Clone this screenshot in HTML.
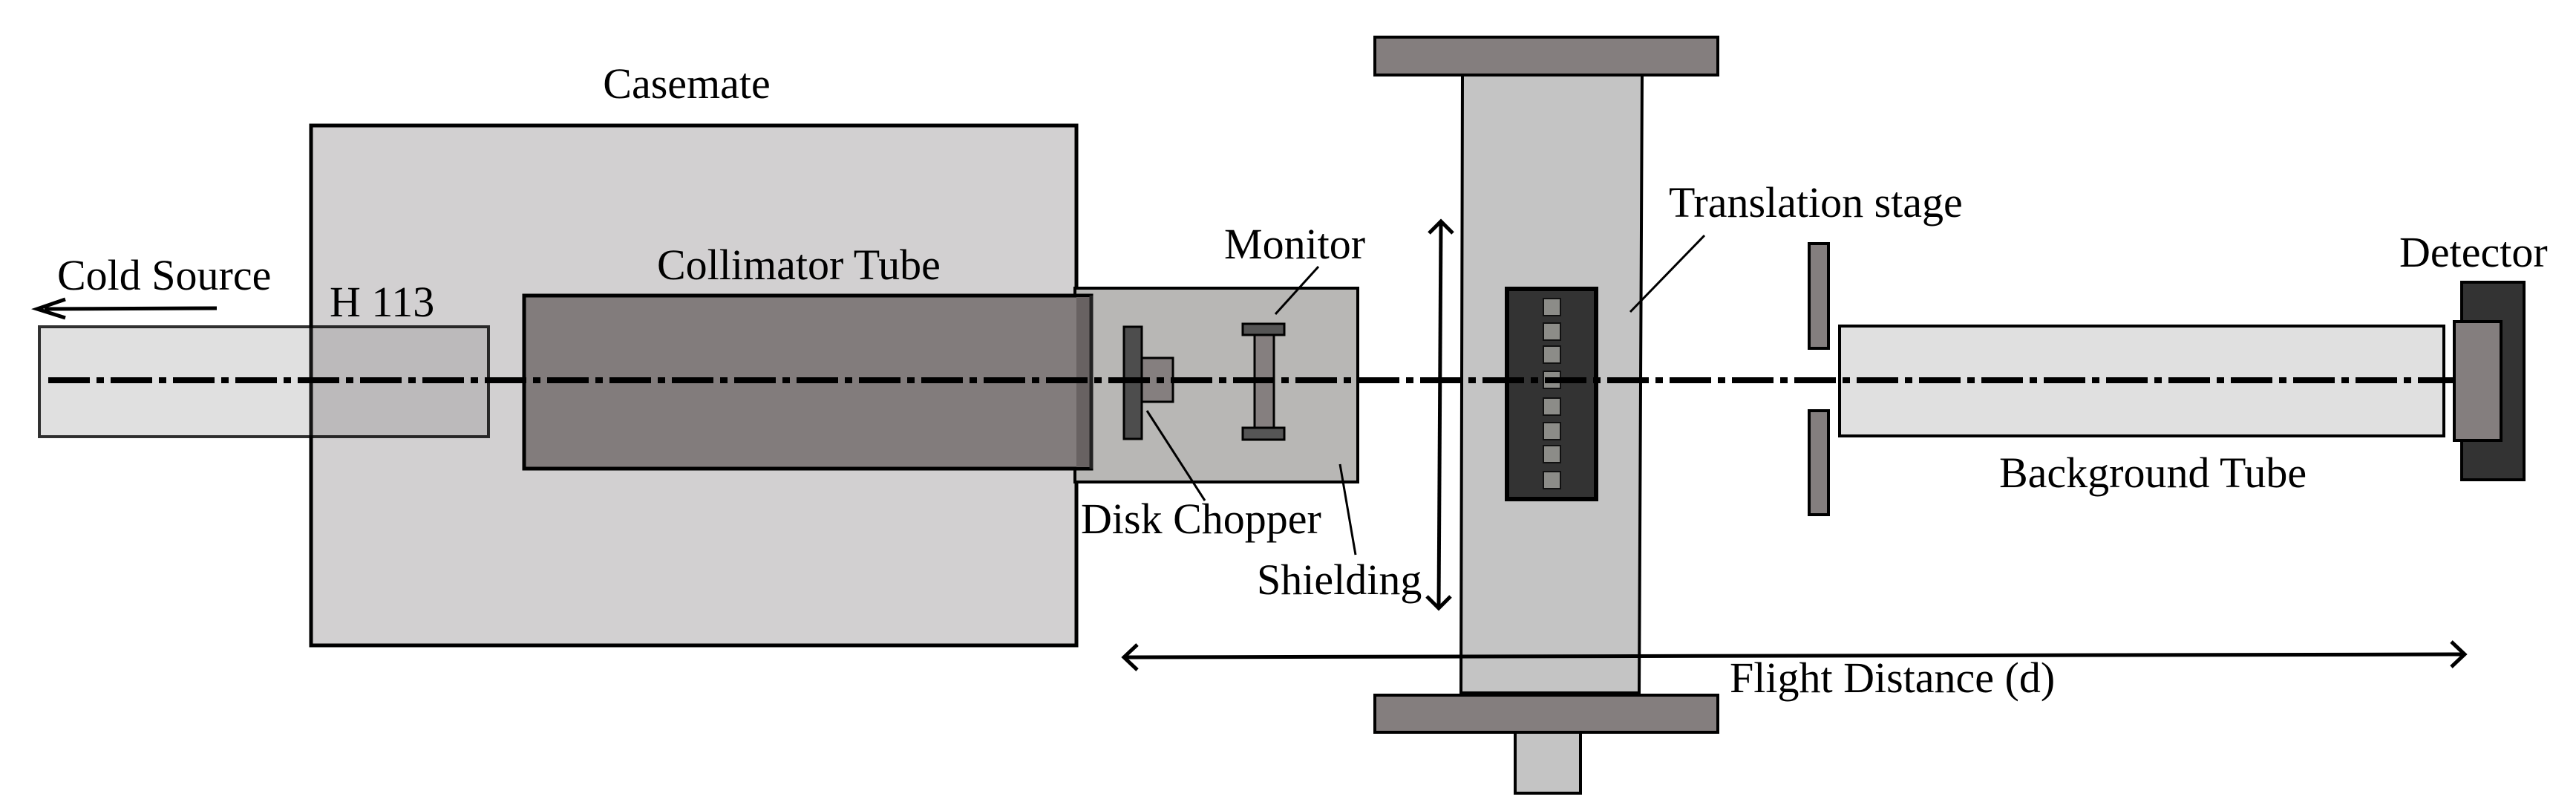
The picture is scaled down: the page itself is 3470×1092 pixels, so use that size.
<!DOCTYPE html>
<html><head><meta charset="utf-8"><style>
html,body{margin:0;padding:0;background:#fff;}
svg{display:block;}
text{font-family:"Liberation Serif",serif;font-size:58px;fill:#000;}
</style></head><body>
<svg width="3470" height="1092" viewBox="0 0 3470 1092" xmlns="http://www.w3.org/2000/svg">
<rect x="419" y="169" width="1031" height="700" fill="#d2d0d1" stroke="#000" stroke-width="5"/>
<text x="925" y="132" text-anchor="middle">Casemate</text>
<rect x="53" y="440" width="605" height="148" fill="rgba(100,100,100,0.2)" stroke="rgba(0,0,0,0.8)" stroke-width="4"/>
<text x="444" y="426">H 113</text>
<text x="77" y="390">Cold Source</text>
<line x1="292" y1="415" x2="60" y2="416" stroke="#000" stroke-width="5"/>
<polyline points="88,403 50,416 88,428" fill="none" stroke="#000" stroke-width="5"/>
<rect x="1448" y="388" width="381" height="261" fill="#b8b7b5" stroke="#000" stroke-width="4"/>
<rect x="706" y="398" width="764" height="233" fill="#827c7c" stroke="#000" stroke-width="5"/>
<rect x="1450" y="400" width="18" height="229" fill="#686262"/>
<line x1="1470" y1="398" x2="1470" y2="631" stroke="#222" stroke-width="5"/>
<text x="885" y="376">Collimator Tube</text>
<rect x="1514" y="440" width="24" height="151" fill="#4d4d4d" stroke="#000" stroke-width="3"/>
<rect x="1538" y="482" width="42" height="59" fill="#857f7f" stroke="#000" stroke-width="3"/>
<rect x="1690" y="451" width="26" height="125" fill="#857f7f" stroke="#000" stroke-width="3"/>
<rect x="1674" y="436" width="56" height="15" fill="#555" stroke="#000" stroke-width="3"/>
<rect x="1674" y="576" width="56" height="16" fill="#555" stroke="#000" stroke-width="3"/>
<text x="1649" y="348">Monitor</text>
<line x1="1776" y1="359" x2="1718" y2="423" stroke="#000" stroke-width="3"/>
<text x="1456" y="718">Disk Chopper</text>
<line x1="1545" y1="553" x2="1623" y2="674" stroke="#000" stroke-width="3"/>
<text x="1693" y="800">Shielding</text>
<line x1="1805" y1="625" x2="1826" y2="747" stroke="#000" stroke-width="3"/>
<polygon points="1970,101 2212,101 2208,933 1968,933" fill="#c4c4c4" stroke="#000" stroke-width="4"/>
<rect x="1852" y="50" width="462" height="51" fill="#847e7e" stroke="#000" stroke-width="4"/>
<rect x="2041" y="986" width="88" height="82" fill="#c4c4c4" stroke="#000" stroke-width="4"/>
<rect x="1852" y="936" width="462" height="50" fill="#847e7e" stroke="#000" stroke-width="4"/>
<rect x="2030" y="389" width="120" height="283" fill="#333" stroke="#000" stroke-width="6"/>
<g fill="#8c8c88" stroke="#111" stroke-width="2">
<rect x="2079" y="402" width="23" height="23"/>
<rect x="2079" y="435" width="23" height="23"/>
<rect x="2079" y="466" width="23" height="23"/>
<rect x="2079" y="500" width="23" height="23"/>
<rect x="2079" y="536" width="23" height="23"/>
<rect x="2079" y="569" width="23" height="23"/>
<rect x="2079" y="600" width="23" height="23"/>
<rect x="2079" y="635" width="23" height="23"/>
</g>
<text x="2248" y="292">Translation stage</text>
<line x1="2296" y1="317" x2="2196" y2="420" stroke="#000" stroke-width="3"/>
<line x1="1941" y1="298" x2="1938" y2="819" stroke="#000" stroke-width="5"/>
<polyline points="1925,314 1941,298 1957,314" fill="none" stroke="#000" stroke-width="5"/>
<polyline points="1922,803 1938,819 1954,803" fill="none" stroke="#000" stroke-width="5"/>
<rect x="2437" y="328" width="26" height="141" fill="#847e7e" stroke="#000" stroke-width="4"/>
<rect x="2437" y="553" width="26" height="140" fill="#847e7e" stroke="#000" stroke-width="4"/>
<rect x="2478" y="439" width="814" height="148" fill="#e0e0e0" stroke="#000" stroke-width="4"/>
<text x="2693" y="656">Background Tube</text>
<rect x="3316" y="380" width="84" height="266" fill="#333" stroke="#000" stroke-width="4"/>
<rect x="3306" y="433" width="63" height="160" fill="#847e7e" stroke="#000" stroke-width="4"/>
<text x="3232" y="359">Detector</text>
<line x1="65" y1="512" x2="3306" y2="512" stroke="#000" stroke-width="8" stroke-dasharray="56 9 10 9"/>
<line x1="1514" y1="885" x2="3320" y2="881" stroke="#000" stroke-width="5"/>
<polyline points="1532,868 1514,885 1532,902" fill="none" stroke="#000" stroke-width="5"/>
<polyline points="3302,864 3320,881 3302,898" fill="none" stroke="#000" stroke-width="5"/>
<text x="2330" y="932">Flight Distance (d)</text>
</svg>
</body></html>
